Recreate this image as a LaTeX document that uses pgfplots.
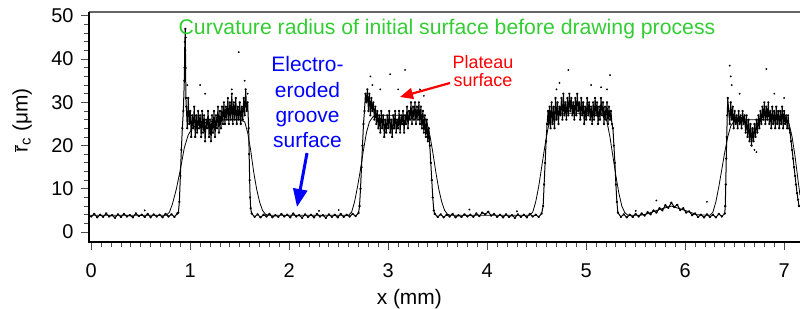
\documentclass[border=0pt]{standalone}
\usepackage{fontspec}
\setmainfont{Liberation Sans}
\usepackage{pgfplots}
\pgfplotsset{compat=1.18}
\usetikzlibrary{arrows.meta}
\definecolor{titlegreen}{RGB}{50,205,50}
\begin{document}
\begin{tikzpicture}
\path[use as bounding box] (0,0) rectangle (800bp,309bp);
\begin{axis}[
 name=ax,
 at={(89bp,67bp)}, anchor=south west,
 scale only axis, width=711bp, height=230bp,
 xmin=-0.023, xmax=7.16, ymin=-2.3, ymax=50.9,
 axis line style={draw=none},
 xtick pos=bottom, ytick pos=left,
 xtick={0,...,7}, ytick={0,10,...,50},
 minor x tick num=9, minor y tick num=4,
 tick align=outside,
 major tick length=8bp, minor tick length=5bp,
 tick style={gray!60!black, line width=0.8bp},
 ticklabel style={font=\fontsize{20}{24}\selectfont},
 xticklabel style={yshift=-10bp},
 yticklabel style={xshift=-4bp},
 /pgf/number format/assume math mode=true,
 xlabel={x (mm)},
 ylabel={$\overline{\mbox{r}}$\textsubscript{c} (μm)},
 label style={font=\fontsize{21}{25}\selectfont},
 xlabel style={at={(axis description cs:0.4505,-0.248)}, anchor=center},
 ylabel style={at={(axis description cs:-0.094,0.530)}, anchor=center},
]
% dense measured band
\addplot[black, line width=1bp, line join=round, mark=*, mark size=0.7bp] coordinates {
(0,3.6)(0.03,4.2)(0.06,3.4)(0.09,4.0)(0.12,3.5)(0.15,4.3)(0.18,3.6)(0.21,3.9)(0.24,3.3)(0.27,4.1)
(0.30,3.5)(0.33,4.2)(0.36,3.6)(0.39,3.9)(0.42,3.4)(0.45,4.3)(0.48,3.7)(0.51,4.0)(0.54,3.5)(0.57,4.2)
(0.60,3.4)(0.63,4.1)(0.66,3.6)(0.69,4.0)(0.72,3.4)(0.75,4.2)(0.78,3.6)(0.81,4.1)(0.84,3.5)(0.87,4.3)
(0.88,4.5)(0.89,7)(0.90,13)(0.91,19)(0.92,24)(0.93,28)(0.94,35)(0.945,44)(0.95,47)(0.953,38)(0.956,31)
(0.96,29)(0.97,24)(0.98,31)(0.99,25)(1.00,28)(1.01,22)(1.02,27)(1.03,24)(1.04,29)(1.05,22)
(1.06,27)(1.07,23)(1.08,28)(1.09,24)(1.10,27)(1.11,22)(1.12,28)(1.13,23)(1.14,27)(1.15,21)
(1.16,26)(1.17,24)(1.18,28)(1.19,22)(1.20,26)(1.21,21)(1.22,27)(1.23,23)(1.24,28)(1.25,22)
(1.26,27)(1.27,24)(1.28,29)(1.29,23)(1.30,28)(1.31,24)(1.32,29)(1.33,25)(1.34,30)(1.35,25)
(1.36,29)(1.37,26)(1.38,31)(1.39,25)(1.40,30)(1.41,26)(1.42,32)(1.43,25)(1.44,30)(1.45,26)
(1.46,31)(1.47,25)(1.48,29)(1.49,26)(1.50,30)(1.51,25)(1.52,29)(1.53,26)(1.54,31)(1.55,27)
(1.56,33)(1.57,28)(1.58,30)(1.59,24)(1.595,18)(1.60,12)(1.605,8)(1.61,5.5)(1.62,4.3)
(1.65,3.5)(1.68,4.1)(1.71,3.4)(1.74,4.0)(1.77,3.6)(1.80,4.2)(1.83,3.4)(1.86,3.9)(1.89,3.5)(1.92,4.2)
(1.95,3.6)(1.98,4.0)(2.01,3.4)(2.04,4.3)(2.07,3.6)(2.10,3.9)(2.13,3.3)(2.16,4.1)(2.19,3.5)(2.22,4.0)
(2.25,3.4)(2.28,4.2)(2.31,3.6)(2.34,3.9)(2.37,3.3)(2.40,4.1)(2.43,3.5)(2.46,4.0)(2.49,3.4)(2.52,4.2)
(2.55,3.5)(2.58,4.0)(2.61,3.6)(2.64,4.2)(2.67,3.7)(2.70,4.4)
(2.71,6)(2.72,10)(2.73,15)(2.74,20)(2.75,25)(2.76,28)(2.77,32)
(2.78,30)(2.79,33)(2.80,28)(2.81,32)(2.82,27)(2.83,31)(2.84,28)(2.85,30)(2.86,26)(2.87,29)
(2.88,25)(2.89,28)(2.90,24)(2.91,27)(2.92,23)(2.93,28)(2.94,24)(2.95,27)(2.96,22)(2.97,26)
(2.98,23)(2.99,27)(3.00,24)(3.01,28)(3.02,23)(3.03,26)(3.04,22)(3.05,27)(3.06,24)(3.07,28)
(3.08,23)(3.09,26)(3.10,24)(3.11,28)(3.12,23)(3.13,27)(3.14,25)(3.15,28)(3.16,23)(3.17,27)
(3.18,25)(3.19,29)(3.20,24)(3.21,28)(3.22,26)(3.23,30)(3.24,25)(3.25,29)(3.26,26)(3.27,30)
(3.28,25)(3.29,29)(3.30,26)(3.31,30)(3.32,25)(3.33,29)(3.34,24)(3.35,28)(3.36,23)(3.37,27)
(3.38,22)(3.39,26)(3.40,21)(3.41,24)
(3.42,20)(3.43,16)(3.44,12)(3.45,8)(3.46,5)(3.47,4.2)
(3.50,3.5)(3.53,4.1)(3.56,3.4)(3.59,4.0)(3.62,3.6)(3.65,4.2)(3.68,3.4)(3.71,3.9)(3.74,3.5)(3.77,4.1)
(3.80,3.6)(3.83,4.0)(3.86,3.5)(3.89,4.3)(3.92,3.7)(3.95,4.5)(3.98,4.1)(4.01,4.7)(4.04,3.8)(4.07,4.2)
(4.10,3.5)(4.13,4.0)(4.16,3.4)(4.19,4.1)(4.22,3.5)(4.25,3.9)(4.28,3.3)(4.31,4.1)(4.34,3.5)(4.37,4.0)
(4.40,3.4)(4.43,4.2)(4.46,3.6)(4.49,4.0)(4.52,3.5)(4.55,4.3)
(4.565,6)(4.575,11)(4.585,16)(4.595,21)(4.605,25)(4.615,28)
(4.62,25)(4.63,29)(4.64,24)(4.65,30)(4.66,25)(4.67,29)(4.68,24)(4.69,31)(4.70,26)(4.71,30)
(4.72,25)(4.73,29)(4.74,27)(4.75,31)(4.76,26)(4.77,32)(4.78,27)(4.79,30)(4.80,26)(4.81,31)
(4.82,27)(4.83,32)(4.84,28)(4.85,31)(4.86,27)(4.87,30)(4.88,26)(4.89,31)(4.90,27)(4.91,32)
(4.92,28)(4.93,30)(4.94,26)(4.95,31)(4.96,27)(4.97,30)(4.98,25)(4.99,29)(5.00,26)(5.01,31)
(5.02,27)(5.03,30)(5.04,26)(5.05,29)(5.06,25)(5.07,30)(5.08,26)(5.09,31)(5.10,27)(5.11,30)
(5.12,25)(5.13,29)(5.14,26)(5.15,31)(5.16,27)(5.17,30)(5.18,25)(5.19,29)(5.20,26)(5.21,30)
(5.22,25)(5.23,29)(5.24,26)(5.25,28)(5.26,25)
(5.27,24)(5.28,20)(5.29,16)(5.30,11)(5.31,7)(5.32,4.5)
(5.35,3.5)(5.38,4.1)(5.41,3.4)(5.44,4.0)(5.47,3.5)(5.50,4.2)(5.53,3.6)(5.56,4.3)(5.59,3.8)(5.62,4.6)
(5.65,4.1)(5.68,5.0)(5.71,4.5)(5.74,5.5)(5.77,5.0)(5.80,6.2)(5.83,5.6)(5.86,6.8)(5.89,5.8)(5.92,6.3)
(5.95,5.1)(5.98,5.5)(6.01,4.5)(6.04,4.8)(6.07,3.9)(6.10,4.3)(6.13,3.5)(6.16,4.0)(6.19,3.4)(6.22,4.1)
(6.25,3.5)(6.28,4.0)(6.31,3.4)(6.34,4.2)(6.37,3.6)(6.40,4.3)
(6.405,6)(6.41,11)(6.415,17)(6.42,22)(6.425,27)(6.43,31)
(6.44,28)(6.45,25)(6.46,30)(6.47,26)(6.48,29)(6.49,24)(6.50,28)(6.51,25)(6.52,27)(6.53,24)
(6.54,28)(6.55,25)(6.56,27)(6.57,24)(6.58,28)(6.59,25)(6.60,27)(6.61,23)(6.62,27)(6.63,22)
(6.64,26)(6.65,21)(6.66,25)(6.67,20)(6.68,24)(6.69,21)(6.70,25)(6.71,22)(6.72,26)(6.73,23)
(6.74,27)(6.75,24)(6.76,28)(6.77,25)(6.78,29)(6.79,26)(6.80,30)(6.81,25)(6.82,29)(6.83,26)
(6.84,30)(6.85,25)(6.86,28)(6.87,24)(6.88,29)(6.89,25)(6.90,28)(6.91,24)(6.92,29)(6.93,25)
(6.94,28)(6.95,24)(6.96,28)(6.97,25)(6.98,29)(6.99,24)(7.00,28)(7.01,25)(7.02,27)(7.03,24)
(7.04,27)(7.05,24)
(7.06,23)(7.07,21)(7.08,19)(7.09,17)(7.10,15)(7.11,13)(7.12,11)(7.13,9)(7.14,7.5)(7.15,6)
};
% scattered outliers
\addplot[only marks, mark=*, mark size=0.7bp, black] coordinates {
(0.54,5.0)(0.94,38)(0.95,42)(0.955,45)(0.97,34)(1.10,34)(1.15,32)(1.42,33)(1.49,41.6)(1.55,35)(1.58,32)
(2.3,4.9)(2.5,5.1)
(2.82,36)(2.84,34)(2.92,33)(3.02,36.5)(3.17,37.5)(3.32,33)(3.10,33)(3.36,31.5)
(3.82,5.2)(4.3,4.8)
(4.70,33)(4.73,34.5)(4.82,37.5)(5.05,34)(5.15,33.5)(5.21,33)(5.24,36.3)
(5.5,4.9)(5.71,7.3)(6.22,7.0)
(6.45,38.5)(6.46,36)(6.47,34)(6.55,32)(6.70,19)(6.72,18.5)(6.82,37.7)(6.90,32)(7.0,31)
};
% smoothed profile
\addplot[black, line width=0.8bp, line join=round] coordinates {
(-0.02,3.9)(0.76,3.9)(0.79,4.6)(0.82,6.5)(0.86,10)(0.90,14.5)(0.94,19.5)(0.98,22.5)(1.02,24)(1.08,25)
(1.2,25.5)(1.35,26)(1.5,26)(1.55,25.5)(1.58,23)(1.61,19)(1.64,14)(1.67,10)(1.70,7)(1.73,5)(1.76,4.1)(1.79,3.9)
(2.60,3.9)(2.63,4.6)(2.66,7)(2.69,10.5)(2.72,14.5)(2.75,19)(2.78,23)(2.81,25.5)(2.85,26.8)(2.9,27)
(3.35,27)(3.39,25.5)(3.42,22.5)(3.45,18.5)(3.48,14)(3.51,10)(3.54,7)(3.57,5)(3.60,4.1)(3.63,3.9)
(4.43,3.9)(4.46,4.6)(4.49,7)(4.52,10.5)(4.55,15)(4.58,19.5)(4.61,23.5)(4.64,26.5)(4.68,27.5)
(5.18,27.5)(5.21,25.5)(5.24,22)(5.27,17.5)(5.30,13)(5.33,9)(5.36,6)(5.39,4.5)(5.42,3.9)
(5.55,3.9)(5.6,4.1)(5.75,5.3)(5.86,6)(6.0,5)(6.12,4)(6.25,3.9)
(6.28,4.6)(6.31,7)(6.34,10.5)(6.37,14.5)(6.40,18.5)(6.43,22)(6.46,24.5)(6.50,25.8)(6.55,26)
(7.02,26)(7.05,25)(7.08,22)(7.11,17.5)(7.14,12)(7.16,8.5)
};
\end{axis}
\draw[gray!80!black, line width=1.5bp] (ax.north west) -- (ax.north east);
\draw[black, line width=1.6bp] (ax.north west) -- (ax.south west) -- (ax.south east);
\node[font=\fontsize{21.3}{25}\selectfont, text=titlegreen, anchor=base] at (447bp,274bp)
 {Curvature radius of initial surface before drawing process};
\node[font=\fontsize{21}{25.3}\selectfont, text=blue, align=center, anchor=north, inner sep=0pt]
 at (307.5bp,252.5bp) {Electro-\\eroded\\groove\\surface};
\node[font=\fontsize{18}{18.3}\selectfont, text=red, align=center, anchor=north, inner sep=0pt]
 at (483bp,254bp) {Plateau\\surface};
\draw[blue, line width=3bp, -{Triangle[length=18bp,width=14bp]}] (307bp,156bp) -- (297bp,102bp);
\draw[red, line width=2.2bp, -{Triangle[length=13bp,width=11bp]}] (450bp,226bp) -- (400bp,212bp);
\end{tikzpicture}
\end{document}
